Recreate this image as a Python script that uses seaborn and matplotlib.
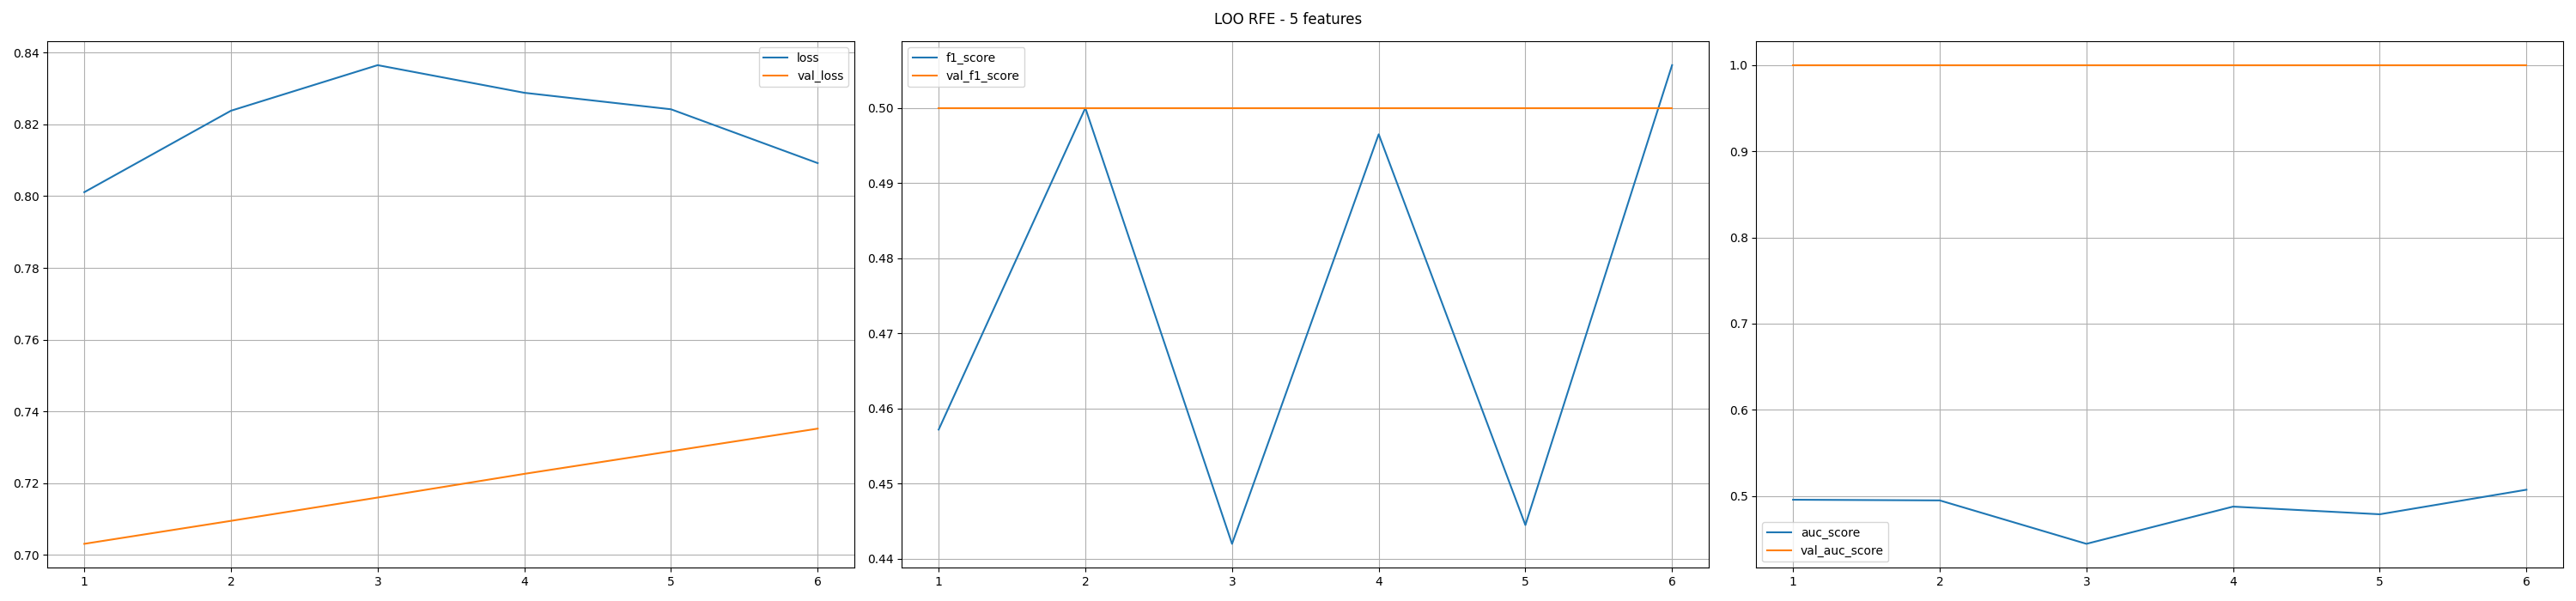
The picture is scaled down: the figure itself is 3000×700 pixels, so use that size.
import matplotlib
matplotlib.use("Agg")
import matplotlib.pyplot as plt
import seaborn as sns
import pandas as pd

epochs = [1, 2, 3, 4, 5, 6]
loss = [0.8011, 0.8238, 0.8365, 0.8288, 0.8242, 0.8092]
val_loss = [0.7031, 0.7095, 0.7160, 0.7226, 0.7289, 0.7352]
f1_score = [0.4572, 0.5000, 0.4420, 0.4965, 0.4445, 0.5057]
val_f1_score = [0.5, 0.5, 0.5, 0.5, 0.5, 0.5]
auc_score = [0.4955, 0.4947, 0.4443, 0.4875, 0.4786, 0.5071]
val_auc_score = [1.0, 1.0, 1.0, 1.0, 1.0, 1.0]

title = "LOO RFE - 5 features"

panels = [
    (("loss", loss), ("val_loss", val_loss), "upper right"),
    (("f1_score", f1_score), ("val_f1_score", val_f1_score), "upper left"),
    (("auc_score", auc_score), ("val_auc_score", val_auc_score), "lower left"),
]

fig, axes = plt.subplots(1, 3, figsize=(30, 7), dpi=100)
colors = ["#1f77b4", "#ff7f0e"]
for ax, (a, b, loc) in zip(axes, panels):
    for (name, vals), c in zip((a, b), colors):
        df = pd.DataFrame({"epoch": epochs, "value": vals})
        sns.lineplot(data=df, x="epoch", y="value", ax=ax, color=c, label=name)
    ax.set_xlabel("")
    ax.set_ylabel("")
    ax.grid(True)
    ax.legend(loc=loc)

fig.suptitle(title)
fig.tight_layout()
fig.savefig("out.png")
